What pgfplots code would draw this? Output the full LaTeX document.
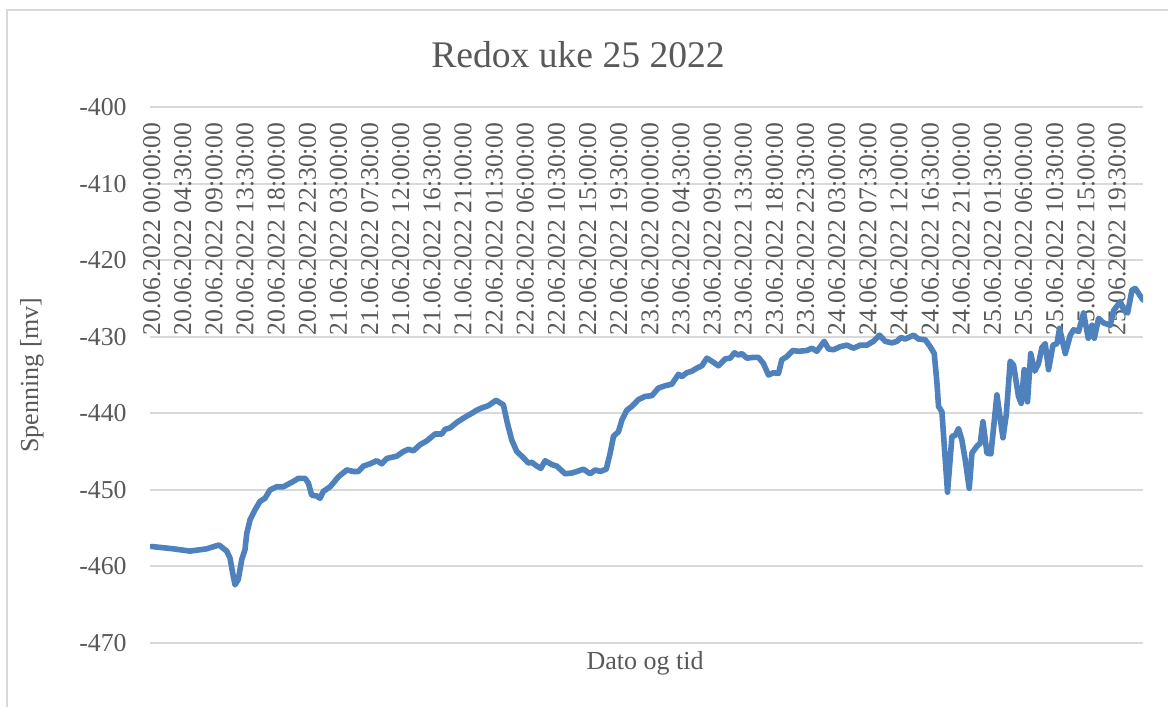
\documentclass[border=0pt]{standalone}
\usepackage{pgfplots}
\pgfplotsset{compat=1.18}
\usepackage{fontspec}
\setmainfont{Liberation Serif}
\definecolor{txt}{RGB}{89,89,89}
\definecolor{grd}{RGB}{217,217,217}
\definecolor{ln}{RGB}{79,129,189}
\begin{document}
\begin{tikzpicture}
\useasboundingbox (0,0) rectangle (584pt,353.5pt);
\fill[white] (0,0) rectangle (584pt,353.5pt);
\draw[grd, line width=1pt] (3.5pt,0) -- (3.5pt,348.5pt) -- (584pt,348.5pt);
\node[txt, font=\fontsize{18.8}{20}\selectfont, anchor=base] at (289pt,319.5pt) {Redox uke 25 2022};
\node[txt, font=\fontsize{13}{14}\selectfont, rotate=90, anchor=center] at (16pt,166pt) {Spenning [mv]};
\node[txt, font=\fontsize{13}{14}\selectfont, anchor=base] at (322.5pt,18.5pt) {Dato og tid};
\begin{axis}[
  at={(75pt,32pt)}, anchor=south west,
  scale only axis, width=496.5pt, height=268pt,
  xmin=-0.25, xmax=143.25, ymin=-470, ymax=-400,
  axis line style={draw=none},
  major tick length=0pt,
  ytick={-470,-460,...,-400},
  ymajorgrids, grid style={grd, line width=1pt},
  /pgf/number format/assume math mode=true,
  yticklabel style={txt, font=\fontsize{12.9}{14}\selectfont, anchor=east, inner sep=0pt, xshift=-11.5pt},
  xtick={0,4.5,...,139.5},
  xticklabel pos=upper,
  xticklabel style={txt, font=\fontsize{12.8}{14}\selectfont, yshift=-7.5pt, rotate=90, anchor=east, inner sep=0pt},
  xticklabels={20.06.2022 00:00:00,20.06.2022 04:30:00,20.06.2022 09:00:00,20.06.2022 13:30:00,20.06.2022 18:00:00,20.06.2022 22:30:00,21.06.2022 03:00:00,21.06.2022 07:30:00,21.06.2022 12:00:00,21.06.2022 16:30:00,21.06.2022 21:00:00,22.06.2022 01:30:00,22.06.2022 06:00:00,22.06.2022 10:30:00,22.06.2022 15:00:00,22.06.2022 19:30:00,23.06.2022 00:00:00,23.06.2022 04:30:00,23.06.2022 09:00:00,23.06.2022 13:30:00,23.06.2022 18:00:00,23.06.2022 22:30:00,24.06.2022 03:00:00,24.06.2022 07:30:00,24.06.2022 12:00:00,24.06.2022 16:30:00,24.06.2022 21:00:00,25.06.2022 01:30:00,25.06.2022 06:00:00,25.06.2022 10:30:00,25.06.2022 15:00:00,25.06.2022 19:30:00},
]
\addplot[ln, line width=2.8pt, line join=round, line cap=round] coordinates {
(0,-457.4) (3.12,-457.7) (5.53,-458.0) (7.95,-457.7) (9.72,-457.2) (10.84,-458.0) (11.31,-458.9) (11.79,-461.3) (12.04,-462.4) (12.51,-461.7) (13.01,-459.1) (13.48,-457.8) (13.73,-455.7) (14.21,-453.9) (14.93,-452.6) (15.65,-451.5) (16.37,-451.1) (17.10,-450.0) (18.06,-449.6) (19.02,-449.6) (20.46,-448.9) (21.19,-448.5) (22.16,-448.5) (22.63,-449.1) (23.12,-450.7) (23.85,-450.8) (24.32,-451.1) (24.80,-450.2) (25.77,-449.6) (26.25,-449.1) (26.97,-448.3) (28.18,-447.4) (29.14,-447.6) (29.86,-447.6) (30.58,-446.9) (31.55,-446.6) (32.52,-446.2) (33.24,-446.6) (33.97,-445.9) (35.41,-445.6) (36.36,-445.0) (37.09,-444.7) (37.81,-444.9) (38.78,-444.1) (39.75,-443.6) (40.95,-442.7) (41.92,-442.7) (42.39,-442.1) (43.12,-441.9) (44.08,-441.2) (45.28,-440.5) (46.25,-440.0) (46.97,-439.6) (47.70,-439.3) (48.65,-439.0) (49.76,-438.3) (50.82,-438.9) (51.40,-441.3) (52.03,-443.5) (52.76,-445.0) (53.71,-445.8) (54.43,-446.5) (54.92,-446.4) (55.65,-446.9) (56.23,-447.2) (56.85,-446.2) (57.82,-446.7) (58.54,-446.9) (59.02,-447.3) (59.74,-447.9) (60.71,-447.8) (61.43,-447.6) (62.39,-447.3) (63.36,-447.9) (64.08,-447.4) (64.81,-447.6) (65.68,-447.3) (66.25,-445.2) (66.73,-443.0) (67.45,-442.4) (67.94,-440.9) (68.66,-439.6) (69.38,-439.1) (70.34,-438.2) (71.30,-437.8) (72.27,-437.7) (73.23,-436.7) (74.20,-436.4) (75.16,-436.2) (76.12,-434.9) (76.61,-435.2) (77.33,-434.7) (78.05,-434.5) (78.78,-434.1) (79.50,-433.8) (80.22,-432.8) (80.94,-433.2) (81.90,-433.8) (82.87,-432.9) (83.59,-432.8) (84.21,-432.1) (84.79,-432.4) (85.28,-432.2) (86.00,-432.8) (86.96,-432.7) (87.68,-432.7) (88.40,-433.5) (89.13,-435.0) (89.85,-434.7) (90.57,-434.8) (91.06,-433.0) (91.78,-432.6) (92.65,-431.8) (93.46,-431.9) (94.68,-431.8) (95.40,-431.5) (96.12,-431.9) (97.18,-430.6) (97.80,-431.6) (98.52,-431.7) (99.49,-431.3) (100.46,-431.1) (101.41,-431.5) (102.38,-431.1) (103.35,-431.1) (104.30,-430.6) (105.17,-429.8) (106.00,-430.6) (106.96,-430.8) (107.69,-430.6) (108.27,-430.1) (108.89,-430.3) (110.09,-429.8) (110.81,-430.3) (111.78,-430.4) (112.50,-431.3) (113.08,-432.2) (113.47,-436.0) (113.70,-439.1) (114.19,-439.8) (115.00,-450.3) (115.64,-443.0) (116.11,-442.9) (116.59,-442.0) (117.08,-443.5) (117.56,-446.1) (118.14,-449.8) (118.53,-445.2) (119.25,-444.3) (119.73,-443.9) (120.12,-441.1) (120.70,-445.2) (121.27,-445.3) (122.14,-437.6) (123.01,-443.2) (123.49,-440.2) (124.06,-433.2) (124.54,-433.7) (125.26,-437.8) (125.65,-438.7) (126.08,-434.3) (126.56,-438.5) (127.02,-432.2) (127.60,-434.5) (128.15,-433.5) (128.65,-431.4) (129.12,-430.9) (129.60,-434.3) (130.24,-431.1) (130.82,-430.9) (131.19,-428.9) (132.02,-432.2) (132.74,-429.8) (133.21,-429.1) (133.94,-429.3) (134.66,-426.9) (135.34,-430.2) (135.88,-428.5) (136.21,-430.2) (136.83,-427.6) (137.55,-428.2) (138.52,-428.5) (139.00,-426.6) (139.97,-425.4) (140.45,-426.5) (141.02,-426.9) (141.66,-423.9) (142.14,-423.7) (143.25,-425.2)
};
\end{axis}
\end{tikzpicture}
\end{document}
